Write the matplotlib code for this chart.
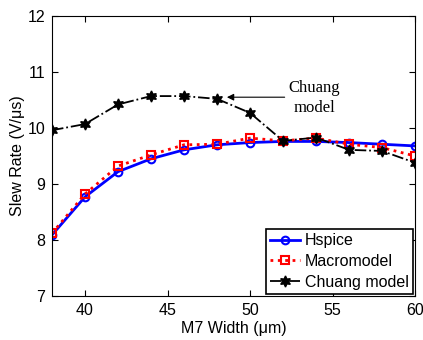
import matplotlib
matplotlib.use("Agg")
import matplotlib.pyplot as plt

width = [38, 40, 42, 44, 46, 48, 50, 52, 54, 56, 58, 60]
hspice = [8.09, 8.77, 9.22, 9.45, 9.61, 9.70, 9.74, 9.76, 9.76, 9.74, 9.71, 9.68]
macromodel = [8.12, 8.82, 9.32, 9.52, 9.70, 9.71, 9.82, 9.77, 9.82, 9.71, 9.65, 9.50]
chuang = [9.96, 10.07, 10.42, 10.57, 10.57, 10.52, 10.27, 9.77, 9.83, 9.61, 9.59, 9.38]

xticks = [40, 45, 50, 55, 60]
yticks = [7, 8, 9, 10, 11, 12]

plt.rcParams['font.family'] = ['Liberation Sans', 'DejaVu Sans']

fig = plt.figure(figsize=(4.23, 3.40), dpi=100)
ax = fig.add_axes([52/423, 1 - 296/340, (415-52)/423, (296-16)/340])

ax.plot(width, hspice, color='blue', lw=2, ls='-', marker='o', ms=5.5,
        mfc='none', mec='blue', mew=1.5, label='Hspice')
ax.plot(width, macromodel, color='red', lw=2, ls=':', marker='s', ms=6,
        mfc='none', mec='red', mew=1.5, label='Macromodel')
ax.plot(width, chuang, color='black', lw=1.3, ls='-.', marker=(6, 1, 0), ms=8,
        mfc='black', mec='black', label='Chuang model')

ax.set_xlim(38, 60)
ax.set_ylim(7, 12)
ax.set_xticks(xticks)
ax.set_yticks(yticks)
ax.tick_params(direction='in', top=True, right=True, labelsize=11.5, length=4, pad=5)
ax.set_xlabel('M7 Width (\u03bcm)', fontsize=11.5, labelpad=2)
ax.set_ylabel('Slew Rate (V/\u03bcs)', fontsize=11.5, labelpad=2)

ax.text(53.9, 10.54, 'Chuang\nmodel', fontsize=12, family='Liberation Serif',
        ha='center', va='center', linespacing=1.35)
ax.annotate('', xy=(48.6, 10.55), xytext=(52.1, 10.55),
            arrowprops=dict(arrowstyle='-|>', color='black', lw=0.8,
                            shrinkA=0, shrinkB=0, mutation_scale=10))

leg = ax.legend(loc='lower right', fontsize=11.5, fancybox=False, edgecolor='black',
                framealpha=1, borderpad=0.25, labelspacing=0.35, handlelength=1.9,
                handletextpad=0.3, borderaxespad=0.15)
leg.get_frame().set_linewidth(1.2)

fig.savefig('out.png', dpi=100)
